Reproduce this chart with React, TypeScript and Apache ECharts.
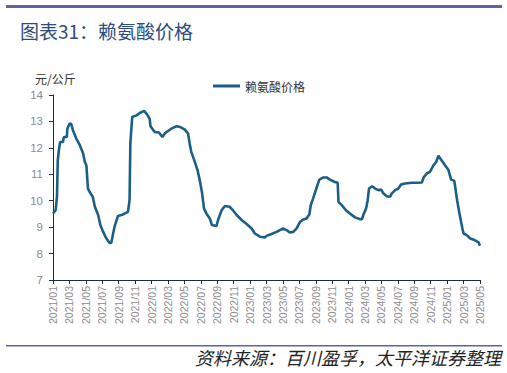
import React, { useEffect, useRef } from "react";
import * as echarts from "echarts";

const dates: string[] = [
  "2021/01/01","2021/01/11","2021/01/16","2021/01/19","2021/01/23","2021/01/28","2021/02/07","2021/02/10","2021/02/20","2021/02/22",
  "2021/03/02","2021/03/08","2021/03/14","2021/03/27","2021/04/09","2021/04/21","2021/04/27","2021/05/03","2021/05/09","2021/05/15",
  "2021/05/27","2021/06/04","2021/06/16","2021/06/24","2021/07/04","2021/07/16","2021/07/28","2021/08/04","2021/08/11","2021/08/17",
  "2021/08/29","2021/09/17","2021/10/05","2021/10/11","2021/10/14","2021/10/21","2021/11/06","2021/11/18","2021/12/04","2021/12/15",
  "2021/12/25","2021/12/28","2022/01/13","2022/01/29","2022/02/10","2022/02/20","2022/03/02","2022/03/14","2022/04/03","2022/04/15",
  "2022/05/03","2022/05/15","2022/05/21","2022/05/27","2022/06/09","2022/06/19","2022/06/27","2022/07/06","2022/07/13","2022/07/22",
  "2022/08/04","2022/08/12","2022/08/29","2022/09/04","2022/09/17","2022/09/29","2022/10/17","2022/10/29","2022/11/12","2022/11/30",
  "2022/12/19","2023/01/07","2023/01/19","2023/02/07","2023/02/23","2023/03/01","2023/03/20","2023/04/08","2023/04/20","2023/05/02",
  "2023/05/14","2023/05/27","2023/06/09","2023/06/21","2023/07/04","2023/07/16","2023/07/28","2023/08/08","2023/08/13","2023/08/22",
  "2023/09/05","2023/09/14","2023/09/29","2023/10/11","2023/10/23","2023/11/11","2023/11/21","2023/11/24","2023/12/06","2023/12/22",
  "2024/01/06","2024/01/25","2024/02/13","2024/02/19","2024/02/25","2024/03/05","2024/03/11","2024/03/16","2024/03/28","2024/04/08",
  "2024/04/20","2024/04/30","2024/05/08","2024/05/21","2024/06/03","2024/06/09","2024/06/21","2024/07/03","2024/07/13","2024/07/28",
  "2024/08/22","2024/09/10","2024/09/29","2024/10/05","2024/10/17","2024/10/29","2024/11/11","2024/11/21","2024/11/29","2024/12/12",
  "2024/12/24","2025/01/06","2025/01/16","2025/01/28","2025/02/07","2025/02/15","2025/02/25","2025/03/01","2025/03/13","2025/03/26",
  "2025/04/11","2025/04/26","2025/05/01"
];

const prices: number[] = [
  9.52,9.64,10.15,11.53,11.9,12.22,12.22,12.41,12.41,12.73,
  12.92,12.9,12.67,12.35,12.1,11.79,11.47,11.34,10.46,10.34,
  10.15,9.77,9.46,9.08,8.83,8.58,8.41,8.4,8.76,9.04,
  9.42,9.48,9.58,10.02,12.16,13.17,13.23,13.32,13.4,13.27,
  13.1,12.82,12.6,12.58,12.41,12.57,12.64,12.73,12.82,12.79,
  12.69,12.54,12.16,11.85,11.47,11.16,10.78,10.28,9.71,9.52,
  9.33,9.08,9.04,9.27,9.64,9.8,9.77,9.64,9.46,9.27,
  9.12,8.95,8.76,8.64,8.61,8.67,8.74,8.82,8.89,8.95,
  8.89,8.8,8.82,8.95,9.2,9.29,9.33,9.49,9.83,10.09,
  10.52,10.8,10.88,10.88,10.8,10.71,10.68,9.96,9.83,9.64,
  9.52,9.37,9.3,9.3,9.49,9.71,10.02,10.46,10.55,10.46,
  10.4,10.42,10.28,10.17,10.15,10.28,10.4,10.46,10.61,10.65,
  10.68,10.68,10.69,10.88,11.03,11.09,11.34,11.47,11.7,11.51,
  11.34,11.16,10.8,10.75,10.02,9.52,8.95,8.76,8.7,8.57,
  8.51,8.42,8.3
];

const seriesName = "赖氨酸价格";
const titleText = "图表31：赖氨酸价格";
const unitText = "元/公斤";
const sourceText = "资料来源：百川盈孚，太平洋证券整理";
const startYear = 2021;

function toMonthIndex(d: string): number {
  const [y, m, day] = d.split("/").map(Number);
  const dim = new Date(y, m, 0).getDate();
  return (y - startYear) * 12 + (m - 1) + (day - 1) / dim;
}

function monthLabel(v: number): string {
  const idx = Math.round(v);
  const y = startYear + Math.floor(idx / 12);
  const m = (idx % 12) + 1;
  return `${y}/${m < 10 ? "0" + m : m}`;
}

export default function App() {
  const ref = useRef<HTMLDivElement>(null);
  useEffect(() => {
    if (!ref.current) return;
    const chart = echarts.init(ref.current, undefined, { renderer: "svg" });
    const data = dates.map((d, i) => [toMonthIndex(d), prices[i]]);
    const font = "Arial, 'Liberation Sans', 'Noto Sans CJK SC', sans-serif";
    chart.setOption({
      animation: false,
      backgroundColor: "#ffffff",
      textStyle: { fontFamily: font },
      grid: { left: 53, right: 27, top: 95, bottom: 93, containLabel: false },
      legend: {
        data: [{ name: seriesName, icon: "rect" }],
        left: 208,
        top: 75,
        itemWidth: 27,
        itemHeight: 3,
        itemGap: 4,
        textStyle: { fontSize: 12, color: "#333333", fontFamily: "'Noto Sans CJK SC', sans-serif", padding: [0, 0, 0, 0] },
      },
      xAxis: {
        type: "value",
        min: 0,
        max: 52,
        interval: 2,
        splitLine: { show: false },
        axisLine: { show: true, lineStyle: { color: "#1f2a44", width: 1 } },
        axisTick: { show: true, length: 4, lineStyle: { color: "#1f2a44" } },
        axisLabel: {
          rotate: 90,
          fontSize: 10.5,
          color: "#8c8c8c",
          margin: 6,
          formatter: (v: number) => monthLabel(v),
        },
      },
      yAxis: {
        type: "value",
        min: 7,
        max: 14,
        interval: 1,
        splitLine: { show: false },
        axisLine: { show: true, lineStyle: { color: "#1f2a44", width: 1 } },
        axisTick: { show: true, length: 4, lineStyle: { color: "#1f2a44" } },
        axisLabel: { fontSize: 11.5, color: "#8c8c8c", margin: 10 },
      },
      series: [
        {
          name: seriesName,
          type: "line",
          data,
          symbol: "none",
          showSymbol: false,
          lineStyle: { color: "#1b5f86", width: 2.6 },
          itemStyle: { color: "#1b5f86" },
        },
      ],
      graphic: [
        { type: "rect", shape: { x: 6, y: 5, width: 496, height: 3 }, style: { fill: "#5f6499" } },
        {
          type: "text",
          left: 20,
          top: 21,
          style: { text: titleText, fontSize: 19, fill: "#2c4c7c", fontFamily: "'Noto Sans CJK SC', sans-serif" },
        },
        {
          type: "text",
          left: 35,
          top: 72,
          style: { text: unitText, fontSize: 12, fill: "#333333", fontFamily: "'Noto Sans CJK SC', sans-serif" },
        },
        { type: "rect", shape: { x: 6, y: 345, width: 496, height: 1.5 }, style: { fill: "#5f6499" } },
        {
          type: "text",
          right: 6,
          top: 348,
          style: { text: sourceText, fontSize: 18, fontStyle: "italic", fill: "#222222", fontFamily: "'Noto Sans CJK SC', sans-serif" },
        },
      ],
    });
    return () => chart.dispose();
  }, []);
  return <div ref={ref} style={{ width: 507, height: 373, position: "absolute", left: 0, top: 0 }} />;
}
